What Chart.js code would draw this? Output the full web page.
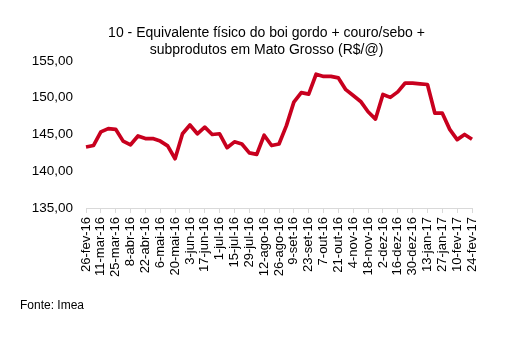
<!DOCTYPE html>
<html>
<head>
<meta charset="utf-8">
<script src="https://cdn.jsdelivr.net/npm/chart.js@4.4.1/dist/chart.umd.min.js"></script>
<style>
  html, body { margin: 0; padding: 0; background: #fff; }
  #wrap { width: 505px; height: 342px; position: relative; }
</style>
</head>
<body>
<div id="wrap"><canvas id="c" width="505" height="342"></canvas></div>
<script>
// Weekly dates (26-fev-16 .. 24-fev-17)
const weeks = [
  '26-fev-16','4-mar-16','11-mar-16','18-mar-16','25-mar-16','1-abr-16','8-abr-16','15-abr-16',
  '22-abr-16','29-abr-16','6-mai-16','13-mai-16','20-mai-16','27-mai-16','3-jun-16','10-jun-16',
  '17-jun-16','24-jun-16','1-jul-16','8-jul-16','15-jul-16','22-jul-16','29-jul-16','5-ago-16',
  '12-ago-16','19-ago-16','26-ago-16','2-set-16','9-set-16','16-set-16','23-set-16','30-set-16',
  '7-out-16','14-out-16','21-out-16','28-out-16','4-nov-16','11-nov-16','18-nov-16','25-nov-16',
  '2-dez-16','9-dez-16','16-dez-16','23-dez-16','30-dez-16','6-jan-17','13-jan-17','20-jan-17',
  '27-jan-17','3-fev-17','10-fev-17','17-fev-17','24-fev-17'
];

// Equivalente físico (R$/@)
const equivalente = [
  143.3, 143.5, 145.35, 145.8, 145.7, 144.1, 143.6, 144.8,
  144.45, 144.45, 144.1, 143.45, 141.7, 145.1, 146.3, 145.1,
  146.0, 145.0, 145.1, 143.2, 144.0, 143.7, 142.5, 142.3,
  144.9, 143.5, 143.7, 146.2, 149.4, 150.7, 150.5, 153.2,
  152.9, 152.9, 152.7, 151.1, 150.3, 149.5, 148.1, 147.1,
  150.45, 150.05, 150.8, 152.0, 152.0, 151.9, 151.8, 147.9,
  147.9, 145.7, 144.3, 145.0, 144.35
];

const yTicks = [135, 140, 145, 150, 155];

const titleLines = [
  '10 - Equivalente físico do boi gordo + couro/sebo +',
  'subprodutos em Mato Grosso (R$/@)'
];
const sourceText = 'Fonte: Imea';

const FONT = '"Liberation Sans", Arial, Helvetica, sans-serif';

// Two-line heading above the plot and the source note below it
const textPlugin = {
  id: 'headingAndSource',
  afterDraw(chart) {
    const ctx = chart.ctx;
    ctx.save();
    ctx.fillStyle = '#000';
    ctx.textBaseline = 'middle';
    ctx.font = '14px ' + FONT;
    ctx.textAlign = 'center';
    ctx.fillText(titleLines[0], 266.5, 33);
    ctx.fillText(titleLines[1], 266.5, 50);
    ctx.font = '12px ' + FONT;
    ctx.textAlign = 'left';
    ctx.fillText(sourceText, 20, 306);
    ctx.restore();
  }
};

new Chart(document.getElementById('c'), {
  type: 'line',
  data: {
    labels: weeks,
    datasets: [{
      data: equivalente,
      borderColor: '#C8001E',
      borderWidth: 3.7,
      pointRadius: 0,
      pointHoverRadius: 0,
      tension: 0,
      borderJoinStyle: 'round',
      borderCapStyle: 'butt',
      fill: false
    }]
  },
  options: {
    responsive: false,
    animation: false,
    events: [],
    layout: { padding: { left: 10, right: 33, top: 61, bottom: 0 } },
    plugins: {
      legend: { display: false },
      tooltip: { enabled: false },
      title: { display: false }
    },
    scales: {
      x: {
        offset: false,
        afterFit(scale) { scale.height = 134; },
        border: { display: true, color: '#d9d9d9', width: 1 },
        grid: {
          drawOnChartArea: false,
          drawTicks: true,
          tickLength: 5,
          color: (ctx) => (ctx.index % 2 === 0 ? '#d9d9d9' : 'rgba(0,0,0,0)')
        },
        ticks: {
          autoSkip: false,
          minRotation: 90,
          maxRotation: 90,
          padding: 4,
          color: '#000',
          font: { family: FONT, size: 13 },
          callback: function (value, index) {
            return index % 2 === 0 ? weeks[index] : '';
          }
        }
      },
      y: {
        min: yTicks[0],
        max: yTicks[yTicks.length - 1],
        afterFit(scale) { scale.width = 76; },
        afterBuildTicks(scale) { scale.ticks = yTicks.map(v => ({ value: v })); },
        border: { display: false },
        grid: { display: false, drawTicks: false },
        ticks: {
          padding: 13,
          color: '#000',
          font: { family: FONT, size: 13.5 },
          callback: (v) => v.toFixed(2).replace('.', ',')
        }
      }
    }
  },
  plugins: [textPlugin]
});
</script>
</body>
</html>
